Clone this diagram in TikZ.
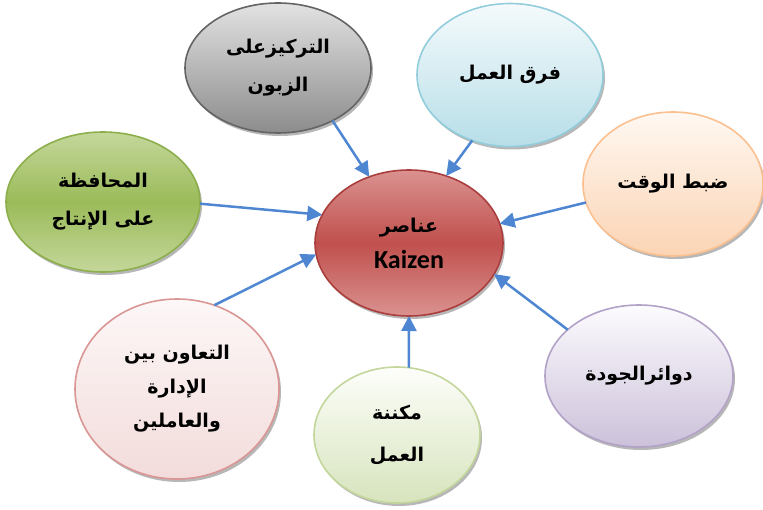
\documentclass[tikz,border=0pt]{standalone}
\usepackage{fontspec}
\usetikzlibrary{arrows.meta,shapes.geometric,shadows}
\TeXXeTstate=1
\newfontfamily\arabicfont[Script=Arabic]{DejaVu Sans}
\newfontfamily\latinfont{Carlito}
\newcommand\artext[1]{{\arabicfont\bfseries\beginR #1\endR}}

\definecolor{arrowblue}{RGB}{78,134,210}
\definecolor{redA}{RGB}{218,146,144}
\definecolor{redB}{RGB}{192,80,77}
\definecolor{redD}{RGB}{170,62,60}
\definecolor{grayA}{RGB}{226,226,226}
\definecolor{grayB}{RGB}{140,140,140}
\definecolor{grayD}{RGB}{100,100,100}
\definecolor{blueA}{RGB}{245,250,252}
\definecolor{blueB}{RGB}{183,222,232}
\definecolor{blueD}{RGB}{146,205,220}
\definecolor{orgA}{RGB}{255,248,242}
\definecolor{orgB}{RGB}{251,212,180}
\definecolor{orgD}{RGB}{250,192,144}
\definecolor{grnA}{RGB}{196,215,155}
\definecolor{grnB}{RGB}{155,187,89}
\definecolor{grnD}{RGB}{140,175,75}
\definecolor{pnkA}{RGB}{253,247,247}
\definecolor{pnkB}{RGB}{242,220,219}
\definecolor{pnkD}{RGB}{217,150,148}
\definecolor{lgrA}{RGB}{253,254,250}
\definecolor{lgrB}{RGB}{215,228,189}
\definecolor{lgrD}{RGB}{195,214,155}
\definecolor{purA}{RGB}{252,251,254}
\definecolor{purB}{RGB}{204,193,218}
\definecolor{purD}{RGB}{179,162,199}

\tikzset{
  bubble/.style={ellipse, draw, line width=1.6pt, inner sep=0pt, outer sep=0pt,
    align=center, text=black,
    drop shadow={shadow xshift=2pt, shadow yshift=-3pt, opacity=0.4, fill=black!70}},
  artxt/.style={font=\fontsize{19}{38}\selectfont},
  feed/.style={draw=arrowblue, line width=2.5pt,
    -{Triangle[length=15pt,width=15pt]}}
}

\begin{document}
\begin{tikzpicture}[x=1pt,y=-1pt]
\useasboundingbox (0,0) rectangle (763,510);

% central element
\node[bubble, draw=redD, minimum width=188pt, minimum height=146pt,
  top color=redA, bottom color=redA, middle color=redB,
  font=\fontsize{19}{36}\selectfont] (c) at (409,243)
  {\artext{عناصر}\\{\latinfont\bfseries\fontsize{26}{36}\selectfont Kaizen}};

% surrounding elements
\node[bubble, artxt, draw=grayD, minimum width=186pt, minimum height=130pt,
  top color=grayA, bottom color=grayB] (g) at (278,68)
  {\artext{التركيزعلى}\\\artext{الزبون}};

\node[bubble, artxt, draw=blueD, minimum width=186pt, minimum height=143pt,
  top color=blueA, bottom color=blueB] (b) at (510,75)
  {\artext{فرق العمل}};

\node[bubble, artxt, draw=orgD, minimum width=180pt, minimum height=144pt,
  top color=orgA, bottom color=orgB] (o) at (673,184)
  {\artext{ضبط الوقت}};

\node[bubble, artxt, draw=grnD, minimum width=194pt, minimum height=140pt,
  top color=grnA, bottom color=grnA, middle color=grnB] (l) at (103,202)
  {\artext{المحافظة}\\\artext{على الإنتاج}};

\node[bubble, draw=pnkD, minimum width=204pt, minimum height=180pt,
  top color=pnkA, bottom color=pnkB, font=\fontsize{19}{34}\selectfont] (p) at (177,389)
  {\artext{التعاون بين}\\\artext{الإدارة}\\\artext{والعاملين}};

\node[bubble, draw=lgrD, minimum width=166pt, minimum height=136pt,
  top color=lgrA, bottom color=lgrB, font=\fontsize{19}{42}\selectfont] (m) at (397,435)
  {\artext{مكننة}\\\artext{العمل}};

\node[bubble, artxt, draw=purD, minimum width=188pt, minimum height=142pt,
  top color=purA, bottom color=purB] (u) at (639,376)
  {\artext{دوائرالجودة}};

% arrows into the centre
\draw[feed] (g.-44.6) -- (c.121.8);
\draw[feed] (b.240.7) -- (c.61.6);
\draw[feed] (o.192.5) -- (c.12.1);
\draw[feed] (l.-1.2) -- (c.162.9);
\draw[feed] (p.66.2) -- (c.187.3);
\draw[feed] (m.80) -- (c.-90);
\draw[feed] (u.147.3) -- (c.-20.9);
\end{tikzpicture}
\end{document}
